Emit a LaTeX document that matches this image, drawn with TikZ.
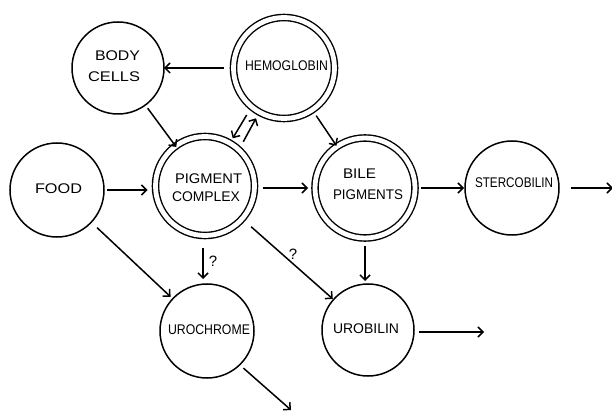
\documentclass[tikz,border=0pt]{standalone}
\usepackage{fontspec}
\newfontfamily\hand{Liberation Sans}
\usetikzlibrary{arrows.meta,calc}
\newcommand{\hw}[2]{\resizebox{#1pt}{\height}{#2}}
\begin{document}
\begin{tikzpicture}[x=1pt,y=-1pt,
  every node/.style={inner sep=0pt,outer sep=0pt},
  lbl/.style={font=\hand\fontsize{14}{16}\selectfont},
  single/.style={circle,draw,line width=1.5pt},
  dbl/.style={circle,draw,line width=1.4pt,double,double distance=4.8pt},
  arr/.style={line width=1.5pt,-{Straight Barb[length=5pt,width=10pt,line width=1.5pt]}},
  qm/.style={font=\hand\fontsize{15}{16}\selectfont}]
\useasboundingbox (0,0) rectangle (612,411);
% circles
\node[single,minimum size=92pt] (body) at (118,68) {};
\node[dbl,minimum size=101pt] (hemo) at (284,68) {};
\node[single,minimum size=94pt] (food) at (57,190) {};
\node[dbl,minimum size=99pt] (pig) at (205,186) {};
\node[dbl,minimum size=100pt] (bile) at (365,188) {};
\node[single,minimum size=94pt] (sterc) at (512,188) {};
\node[single,minimum size=94pt] (uroc) at (207,331) {};
\node[single,minimum size=92pt] (urob) at (368,330) {};
% labels
\node[lbl] (tbody1) at (117.5,55.5) {\hw{45}{BODY}};
\node[lbl] (tbody2) at (114,77) {\hw{52}{CELLS}};
\node[lbl] (themo) at (286.5,66) {\hw{83}{HEMOGLOBIN}};
\node[lbl] (tfood) at (58.5,189) {\hw{47}{FOOD}};
\node[lbl] (tpig1) at (208.5,178.5) {\hw{67}{PIGMENT}};
\node[lbl] (tpig2) at (206,197) {\hw{68}{COMPLEX}};
\node[lbl] (tbile1) at (359.5,174) {\hw{33}{BILE}};
\node[lbl] (tbile2) at (368,195) {\hw{70}{PIGMENTS}};
\node[lbl] (tsterc) at (514,183) {\hw{78}{STERCOBILIN}};
\node[lbl] (turoc) at (209,330) {\hw{82}{UROCHROME}};
\node[lbl] (turob) at (366,329) {\hw{66}{UROBILIN}};
% free ends
\coordinate (outS) at (613,188);
\coordinate (outU) at (484,332);
\coordinate (outC) at (291,410);
% connectors
\draw[arr,shorten <=10pt] (hemo) -- (body);
\draw[arr,shorten <=4pt,shorten >=-1pt] (body) -- (pig);
\draw[arr] ($(pig)+(38.3,-44.3)$) -- ($(hemo)+(-28,50.3)$);
\draw[arr] ($(hemo)+(-37.3,47)$) -- ($(pig)+(27.7,-47.7)$);
\draw[arr,shorten <=7pt,shorten >=1pt] (hemo) -- (bile);
\draw[arr,shorten <=3pt,shorten >=8pt] (food.east) -- (food.east -| pig.west);
\draw[arr,shorten <=8pt,shorten >=7pt] (pig.east |- bile.west) -- (bile.west);
\draw[arr,shorten <=6pt,shorten >=1pt] (bile.east) -- (sterc.west);
\draw[arr,shorten <=12pt] (sterc.east) -- (outS);
\draw[arr,shorten <=8pt,shorten >=3pt] (food) -- (uroc);
\draw[arr,shorten <=13pt,shorten >=5pt] ([xshift=-2pt]pig.south) -- ([xshift=-2pt]pig.south |- uroc.north);
\node[qm] (q1) at (213,261) {?};
\draw[arr,shorten <=12pt,shorten >=1pt] (pig) -- (urob);
\node[qm] (q2) at (293,254) {?};
\draw[arr,shorten <=8pt,shorten >=3pt] (bile.south) -- (bile.south |- urob.north);
\draw[arr,shorten <=5pt] (urob.east |- outU) -- (outU);
\draw[arr,shorten <=5pt] (uroc.-46.5) -- (outC);
\end{tikzpicture}
\end{document}
